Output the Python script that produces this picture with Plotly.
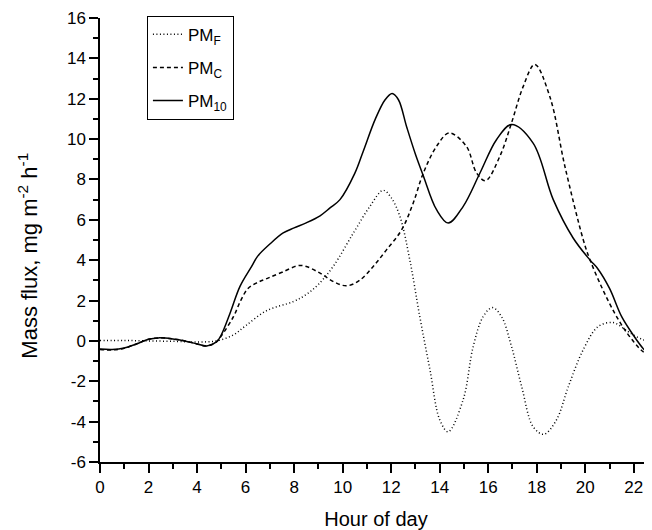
import plotly.graph_objects as go

## PM_F (dotted)
pmfHour = [0, 1, 2, 3, 4, 4.8, 5.5, 6, 6.87, 7.97, 8.5, 9, 9.61, 10.44, 11.12, 11.67, 12.0, 12.36,
           12.77, 13.18, 13.6, 14.0, 14.35, 14.97, 15.38, 15.79, 16.17, 16.55, 16.96, 17.38, 17.85,
           18.29, 18.81, 19.3, 19.91, 20.53, 21.15, 21.6, 21.97, 22.4, 22.75]
pmfFlux = [0.02, 0.02, 0.0, -0.02, -0.05, 0.0, 0.3, 0.75, 1.5, 1.95, 2.3, 2.8, 3.69, 5.34, 6.66, 7.46, 7.1, 6.17,
           4.0, 1.2, -1.44, -3.9, -4.5, -2.9, -0.28, 1.2, 1.65, 1.2, -0.28, -2.27, -4.25,
           -4.63, -3.92, -2.27, -0.45, 0.71, 0.91, 0.6, 0.3, 0.05, -0.08]

## PM_C (dashed)
pmcHour = [0, 0.5, 1, 1.5, 2, 2.4, 3, 3.5, 4, 4.4, 4.8, 5.0, 5.5, 5.8, 6.1, 6.5, 6.9, 7.5, 8.28, 9.07,
           9.6, 10.16, 10.7, 11.26, 11.8, 12.43, 12.9, 13.32, 13.87, 14.39, 15.1, 15.52, 15.89, 16.48,
           16.96, 17.44, 17.92, 18.54, 19.16, 19.92, 20.2, 20.7, 21.2, 21.6, 22.0, 22.3, 22.75]
pmcFlux = [-0.42, -0.45, -0.36, -0.15, 0.08, 0.15, 0.1, 0.0, -0.15, -0.25, -0.05, 0.25, 1.2, 2.0, 2.6, 2.9, 3.1, 3.4, 3.74, 3.36,
           2.95, 2.73, 3.0, 3.69, 4.5, 5.5, 6.8, 8.3, 9.64, 10.3, 9.64, 8.32, 7.94, 9.15,
           10.8, 12.6, 13.7, 12.1, 8.65, 5.0, 4.0, 2.6, 1.4, 0.6, -0.05, -0.45, -0.85]

## PM10 (solid)
pm10Hour = [0, 0.5, 1, 1.5, 2, 2.4, 3, 3.5, 4, 4.4, 4.8, 5.0, 5.36, 5.77, 6.25, 6.5, 7, 7.55, 8, 8.5,
            9.07, 9.48, 9.89, 10.5, 10.85, 11.35, 11.75, 12.04, 12.3, 12.64, 13.0, 13.32, 13.87, 14.35, 14.97,
            15.66, 16.34, 16.96, 17.85, 18.68, 19.5, 20.2, 20.5, 21.0, 21.5, 22.0, 22.4, 22.75]
pm10Flux = [-0.4, -0.42, -0.35, -0.15, 0.08, 0.15, 0.1, 0.0, -0.15, -0.25, -0.05, 0.3, 1.37, 2.7, 3.69, 4.2, 4.8, 5.35, 5.6, 5.85,
            6.2, 6.59, 7.0, 8.3, 9.4, 11.0, 11.95, 12.26, 11.95, 10.6, 9.25, 8.2, 6.5, 5.84, 6.67,
            8.32, 9.97, 10.72, 9.8, 7.0, 5.1, 4.0, 3.6, 2.6, 1.2, 0.25, -0.4, -0.8]

xTicks = list(range(0, 23, 2))
yTicks = list(range(-6, 17, 2))
yTickText = [str(v) for v in yTicks]

fontName = "Liberation Sans, Arial, sans-serif"

fig = go.Figure()

fig.add_trace(go.Scatter(x=pmfHour, y=pmfFlux,
                mode='lines', legendgroup='f',
                line=dict(color='black', width=1.5, dash='1px,2.5px', shape='spline'),
                name='PM<sub>F</sub>'))

fig.add_trace(go.Scatter(x=pmcHour, y=pmcFlux,
                mode='lines', legendgroup='c',
                line=dict(color='black', width=1.5, dash='4px,3px', shape='spline'),
                name='PM<sub>C</sub>'))

fig.add_trace(go.Scatter(x=pm10Hour, y=pm10Flux,
                mode='lines', legendgroup='10',
                line=dict(color='black', width=1.5, shape='spline'),
                name='PM<sub>10</sub>'))

axisStyle = dict(showgrid=False, zeroline=False, showline=True, linecolor='black', linewidth=1.5,
                 ticks='outside', ticklen=9, tickwidth=1.5, tickcolor='black',
                 tickfont=dict(size=17, color='black', family=fontName))

fig.update_xaxes(range=[0, 22.75], tickvals=xTicks,
                 minor=dict(dtick=1, tick0=0, ticks='outside', ticklen=5, tickwidth=1.5, tickcolor='black'),
                 title=dict(text='Hour of day', font=dict(size=20, color='black', family=fontName), standoff=16),
                 **axisStyle)

fig.update_yaxes(range=[-6, 16], tickvals=yTicks, ticktext=yTickText,
                 minor=dict(dtick=1, tick0=0, ticks='outside', ticklen=5, tickwidth=1.5, tickcolor='black'),
                 **axisStyle)

# y title as an annotation, it sits a bit below the plot centre in the original
fig.add_annotation(text='Mass flux, mg m<sup>-2</sup> h<sup>-1</sup>',
                   xref='paper', yref='paper', x=-0.132, y=0.465,
                   xanchor='center', yanchor='middle', textangle=-90, showarrow=False,
                   font=dict(size=22, color='black', family=fontName))

# page body adds 8px around the plot, so the figure is 8px smaller on each side
fig.update_layout(width=644, height=522,
                  margin=dict(l=92, r=0, t=10, b=68),
                  plot_bgcolor='white', paper_bgcolor='white',
                  font=dict(family=fontName, color='black'),
                  legend=dict(x=0.085, y=1.005, xanchor='left', yanchor='top',
                              bordercolor='black', borderwidth=1, bgcolor='white',
                              tracegroupgap=8,
                              font=dict(size=17, color='black', family=fontName)))

fig.write_html("out.html")
